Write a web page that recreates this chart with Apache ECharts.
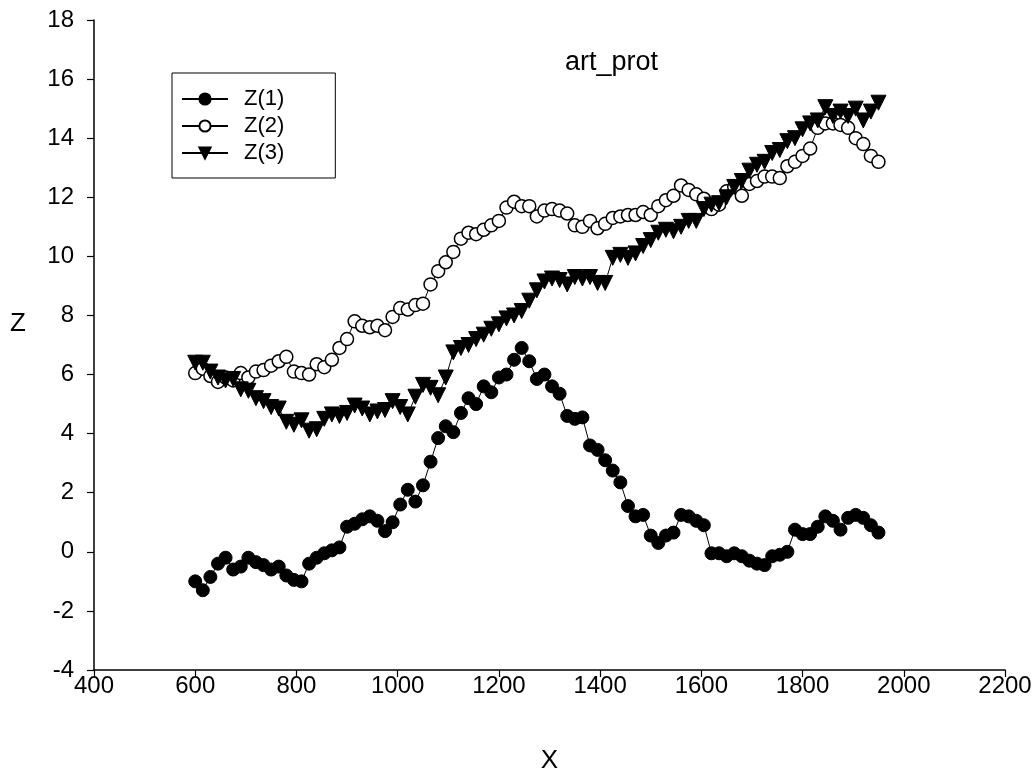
<!DOCTYPE html>
<html>
<head>
<meta charset="utf-8">
<script src="https://cdn.jsdelivr.net/npm/echarts@6/dist/echarts.min.js"></script>
<style>
  html, body { margin: 0; padding: 0; background: #fff; overflow: hidden; }
  #chart { width: 100vw; height: 100vh; }
</style>
</head>
<body>
<div id="chart"></div>
<script>
// Positions shared by all three series (600 .. 1950, step 15)
const xValues = [];
for (let x = 600; x <= 1950; x += 15) xValues.push(x);

const z1 = [
  -1.0, -1.3, -0.85, -0.4, -0.2, -0.6, -0.5, -0.2, -0.35, -0.45,
  -0.6, -0.5, -0.8, -0.95, -1.0, -0.4, -0.2, -0.05, 0.05, 0.15,
  0.85, 0.95, 1.1, 1.2, 1.05, 0.7, 1.0, 1.6, 2.1, 1.7,
  2.25, 3.05, 3.85, 4.25, 4.05, 4.7, 5.2, 5.0, 5.6, 5.4,
  5.9, 6.0, 6.5, 6.9, 6.45, 5.85, 6.0, 5.6, 5.35, 4.6,
  4.5, 4.55, 3.6, 3.45, 3.1, 2.75, 2.35, 1.55, 1.2, 1.25,
  0.55, 0.3, 0.55, 0.65, 1.25, 1.2, 1.05, 0.9, -0.05, -0.05,
  -0.15, -0.05, -0.15, -0.3, -0.4, -0.45, -0.15, -0.1, 0.0, 0.75,
  0.6, 0.6, 0.85, 1.2, 1.05, 0.75, 1.15, 1.25, 1.15, 0.9,
  0.65
];

const z2 = [
  6.05, 6.2, 5.95, 5.75, 5.9, 5.8, 6.05, 5.9, 6.1, 6.15,
  6.3, 6.45, 6.6, 6.1, 6.05, 6.0, 6.35, 6.25, 6.5, 6.9,
  7.2, 7.8, 7.65, 7.6, 7.65, 7.5, 7.95, 8.25, 8.2, 8.35,
  8.4, 9.05, 9.5, 9.8, 10.15, 10.6, 10.8, 10.75, 10.9, 11.05,
  11.2, 11.65, 11.85, 11.7, 11.7, 11.35, 11.55, 11.6, 11.55, 11.45,
  11.05, 11.0, 11.2, 10.95, 11.1, 11.3, 11.35, 11.4, 11.4, 11.5,
  11.4, 11.7, 11.9, 12.05, 12.4, 12.25, 12.1, 11.95, 11.6, 11.75,
  12.2, 12.35, 12.05, 12.45, 12.55, 12.7, 12.7, 12.65, 13.05, 13.2,
  13.4, 13.65, 14.35, 14.5, 14.5, 14.45, 14.35, 14.0, 13.8, 13.4,
  13.2
];

const z3 = [
  6.4, 6.4, 6.1, 5.9, 5.8, 5.85, 5.5, 5.45, 5.2, 5.1,
  4.9, 4.85, 4.4, 4.3, 4.45, 4.1, 4.15, 4.5, 4.65, 4.6,
  4.7, 4.95, 4.85, 4.65, 4.75, 4.8, 5.1, 4.9, 4.65, 5.25,
  5.65, 5.55, 5.3, 5.9, 6.75, 6.9, 7.0, 7.2, 7.35, 7.55,
  7.7, 7.9, 8.0, 8.15, 8.5, 8.85, 9.15, 9.25, 9.2, 9.05,
  9.3, 9.25, 9.3, 9.1, 9.1, 9.95, 10.05, 9.95, 10.1, 10.35,
  10.55, 10.8, 10.9, 10.85, 11.0, 11.2, 11.2, 11.6, 11.75, 11.8,
  12.0, 12.35, 12.55, 12.9, 13.1, 13.2, 13.5, 13.6, 13.9, 14.0,
  14.3, 14.5, 14.6, 15.05, 14.75, 14.9, 14.75, 15.0, 14.6, 14.9,
  15.2
];

const seriesNames = ['Z(1)', 'Z(2)', 'Z(3)'];
const FONT = '"Liberation Sans", Arial, sans-serif';

const pairs = ys => xValues.map((x, i) => [x, ys[i]]);

const chart = echarts.init(document.getElementById('chart'), null, { renderer: 'canvas' });

const axisCommon = {
  axisLine: { show: true, onZero: false, lineStyle: { color: '#000', width: 1.5 } },
  axisTick: { show: true, inside: false, length: 7, lineStyle: { color: '#000', width: 1.2 } },
  axisLabel: {
    color: '#000', fontFamily: FONT, fontSize: 24,
    formatter: v => String(v)
  },
  splitLine: { show: false }
};

const nameStyle = { color: '#000', fontFamily: FONT, fontSize: 26 };

chart.setOption({
  backgroundColor: '#fff',
  animation: false,
  title: {
    text: 'art_prot',
    left: 560,
    top: 44,
    textStyle: { color: '#000', fontFamily: FONT, fontSize: 27, fontWeight: 'normal' }
  },
  legend: {
    orient: 'vertical',
    left: 172,
    top: 73,
    data: seriesNames,
    itemWidth: 46,
    itemHeight: 14,
    itemGap: 5,
    padding: [15, 51, 14, 9],
    borderColor: '#000',
    borderWidth: 1,
    textStyle: { color: '#000', fontFamily: FONT, fontSize: 22, padding: [0, 0, 0, 11] }
  },
  grid: { left: 94, right: 30, top: 20, bottom: 92, containLabel: false },
  xAxis: Object.assign({}, axisCommon, {
    type: 'value',
    min: 400, max: 2200, interval: 200,
    name: 'X', nameLocation: 'middle', nameGap: 78,
    nameTextStyle: nameStyle,
    axisLabel: Object.assign({}, axisCommon.axisLabel, { margin: 4 })
  }),
  yAxis: Object.assign({}, axisCommon, {
    type: 'value',
    min: -4, max: 18, interval: 2,
    name: 'Z', nameLocation: 'middle', nameGap: 68, nameRotate: 0,
    nameTextStyle: Object.assign({}, nameStyle, { verticalAlign: 'bottom', padding: [0, 0, 8, 0] }),
    axisLabel: Object.assign({}, axisCommon.axisLabel, { margin: 20 })
  }),
  series: [
    {
      name: 'Z(1)', type: 'line', data: pairs(z1),
      symbol: 'circle', symbolSize: 13,
      itemStyle: { color: '#000', borderColor: '#000', borderWidth: 1 },
      lineStyle: { color: '#000', width: 1 },
      z: 3
    },
    {
      name: 'Z(2)', type: 'line', data: pairs(z2),
      symbol: 'circle', symbolSize: 13,
      itemStyle: { color: '#fff', borderColor: '#000', borderWidth: 1.5 },
      lineStyle: { color: '#000', width: 1 },
      z: 3
    },
    {
      name: 'Z(3)', type: 'line', data: pairs(z3),
      symbol: 'triangle', symbolSize: 15, symbolRotate: 180,
      itemStyle: { color: '#000', borderColor: '#000', borderWidth: 1 },
      lineStyle: { color: '#000', width: 1 },
      z: 4
    }
  ]
});
</script>
</body>
</html>
